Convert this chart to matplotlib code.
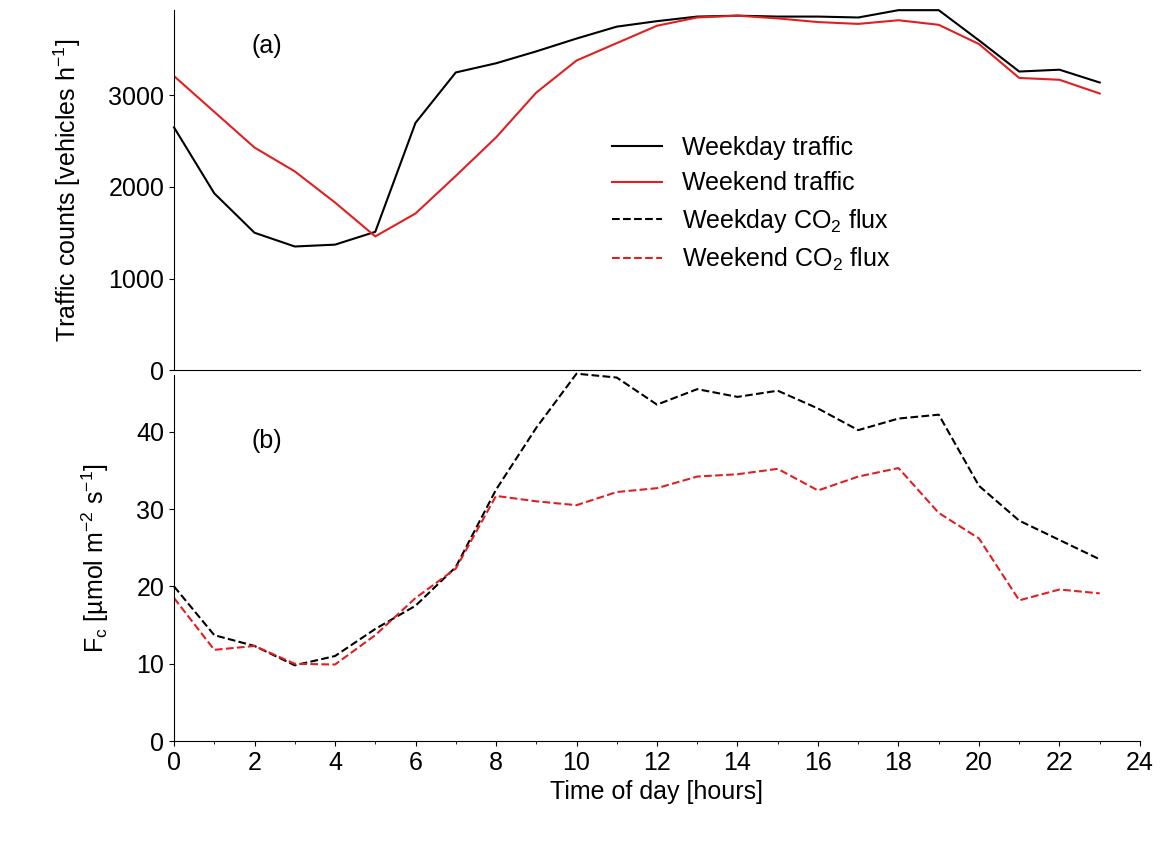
import numpy as np
import matplotlib.pyplot as plt

hours = np.arange(24)
weekday_traffic = [2650, 1930, 1500, 1350, 1370, 1510, 2700, 3250, 3350, 3480, 3620, 3750,
                   3810, 3860, 3870, 3860, 3860, 3850, 3930, 3930, 3600, 3260, 3280, 3140]
weekend_traffic = [3210, 2820, 2430, 2170, 1830, 1460, 1710, 2120, 2540, 3030, 3380, 3570,
                   3760, 3850, 3870, 3840, 3800, 3780, 3820, 3770, 3560, 3190, 3170, 3020]
weekday_flux = [20, 13.7, 12.3, 9.8, 11, 14.5, 17.5, 22.5, 32.5, 40.5, 47.5, 47,
                43.5, 45.5, 44.5, 45.3, 43, 40.2, 41.7, 42.2, 33, 28.5, 26, 23.5]
weekend_flux = [18.5, 11.8, 12.3, 10, 9.9, 13.7, 18.5, 22.3, 31.7, 31, 30.5, 32.2,
                32.7, 34.2, 34.5, 35.2, 32.4, 34.2, 35.3, 29.5, 26.2, 18.2, 19.6, 19.1]

plt.rcParams['font.family'] = ['Arial', 'Liberation Sans', 'DejaVu Sans']
plt.rcParams['font.size'] = 18
plt.rcParams['mathtext.default'] = 'regular'

fig = plt.figure(figsize=(11.68, 8.47), dpi=100)
ax1 = fig.add_axes([0.149, 0.563, 0.827, 0.425])
ax2 = fig.add_axes([0.149, 0.125, 0.827, 0.432])

ax1.plot(hours, weekday_traffic, color="black", lw=1.5, label="Weekday traffic", clip_on=False)
ax1.plot(hours, weekend_traffic, color="#e02020", lw=1.5, label="Weekend traffic")
ax1.plot([], [], color="black", ls="--", lw=1.5, label="Weekday CO$_2$ flux")
ax1.plot([], [], color="#e02020", ls="--", lw=1.5, label="Weekend CO$_2$ flux")
ax1.set_ylim(0, 3930)
ax1.set_yticks([0, 1000, 2000, 3000])
ax1.set_ylabel("Traffic counts [vehicles h$^{-1}$]", labelpad=18)
ax1.text(0.08, 0.88, "(a)", transform=ax1.transAxes)
ax1.legend(loc="center left", bbox_to_anchor=(0.43, 0.46), frameon=False,
           handlelength=2.0, labelspacing=0.45)

ax2.plot(hours, weekday_flux, color="black", ls="--", lw=1.5, clip_on=False)
ax2.plot(hours, weekend_flux, color="#e02020", ls="--", lw=1.5)
ax2.set_ylim(0, 47.3)
ax2.set_yticks([0, 10, 20, 30, 40])
ax2.set_ylabel("F$_c$ [µmol m$^{-2}$ s$^{-1}$]", labelpad=18)
ax2.set_xlabel("Time of day [hours]")
ax2.text(0.08, 0.8, "(b)", transform=ax2.transAxes)
ax2.set_xticks(range(0, 25, 2))
ax2.set_xticks(range(1, 24, 2), minor=True)

for ax in (ax1, ax2):
    ax.set_xlim(0, 24)
    ax.spines["top"].set_visible(False)
    ax.spines["right"].set_visible(False)
ax1.set_xticks([])
fig.align_ylabels([ax1, ax2])

fig.savefig("out.png")
